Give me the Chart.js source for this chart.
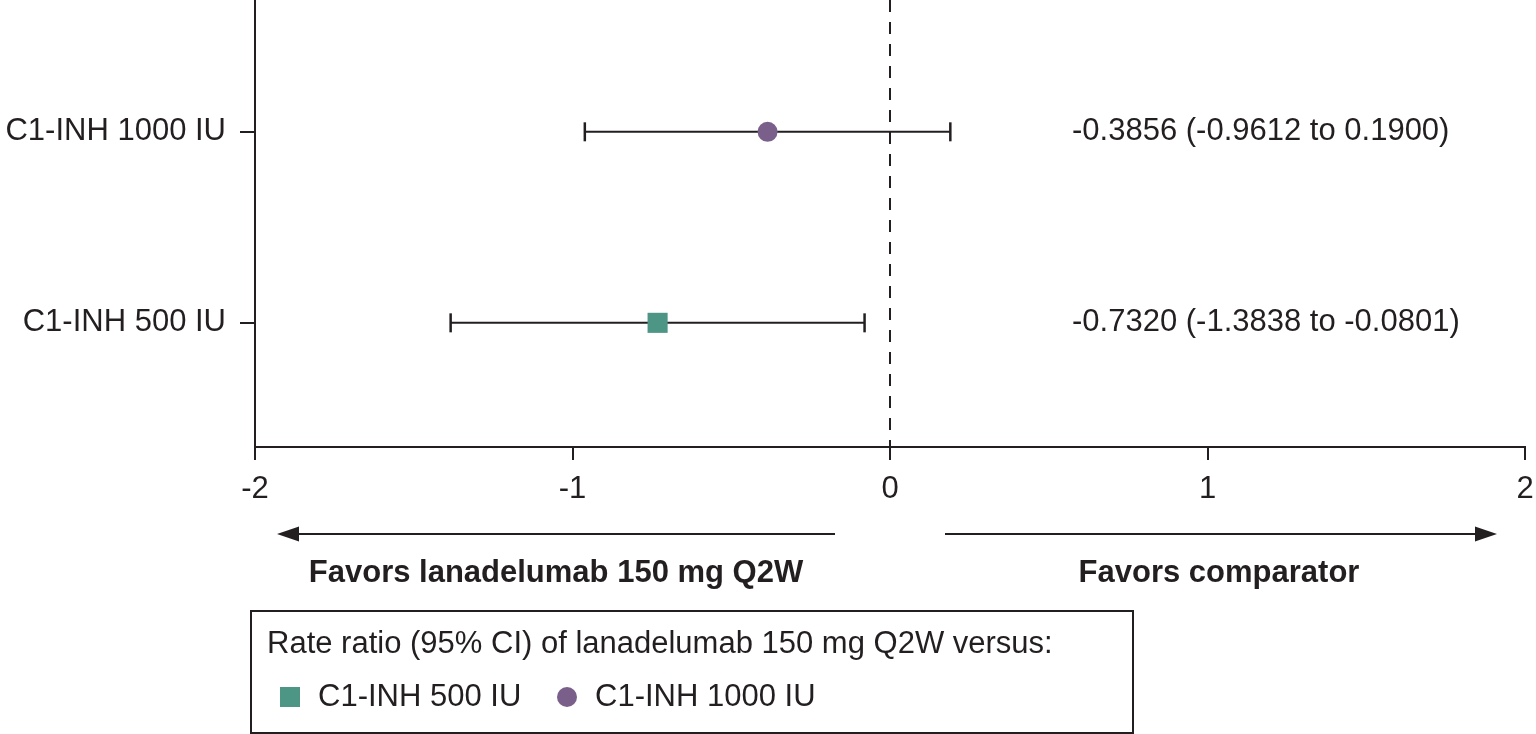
<!DOCTYPE html>
<html>
<head>
<meta charset="utf-8">
<script src="https://cdn.jsdelivr.net/npm/chart.js@4.4.0/dist/chart.umd.min.js"></script>
<style>
  html, body { margin: 0; padding: 0; background: #ffffff; }
  #wrap { width: 1536px; height: 734px; }
</style>
</head>
<body>
<div id="wrap"><canvas id="c" width="1536" height="734"></canvas></div>
<script>
// ---- data ----
const categories = ['C1-INH 1000 IU', 'C1-INH 500 IU'];
const positions = [2, 1];
const estimates = [-0.3856, -0.7320];
const lowerCI = [-0.9612, -1.3838];
const upperCI = [0.1900, -0.0801];
const xTickValues = [-2, -1, 0, 1, 2];
const legendOrder = [1, 0];
const legendTitle = 'Rate ratio (95% CI) of lanadelumab 150 mg Q2W versus:';
const leftArrowLabel = 'Favors lanadelumab 150 mg Q2W';
const rightArrowLabel = 'Favors comparator';

// ---- styles ----
const INK = '#231f20';
const FONT = "'Liberation Sans', Arial, Helvetica, sans-serif";
const markerColors = ['#7b5f8b', '#4d9584'];
const markerStyles = ['circle', 'rect'];
const markerRadius = [10, 14.2];

Chart.defaults.font.family = FONT;
Chart.defaults.color = INK;

const fmt = v => v.toFixed(4);
const noPad = () => ({ left: 0, top: 0, right: 0, bottom: 0 });

const datasets = [];
categories.forEach((c, i) => {
  datasets.push({
    type: 'scatter',
    label: c,
    data: [{ x: estimates[i], y: positions[i] }],
    pointStyle: markerStyles[i],
    pointRadius: markerRadius[i],
    pointHoverRadius: markerRadius[i],
    backgroundColor: markerColors[i],
    borderColor: markerColors[i],
    pointBorderWidth: 0,
    order: 1
  });
});
categories.forEach((c, i) => {
  datasets.push({
    type: 'line',
    label: c + ' CI',
    data: [{ x: lowerCI[i], y: positions[i] }, { x: upperCI[i], y: positions[i] }],
    borderColor: INK,
    borderWidth: 2,
    pointStyle: 'line',
    pointRotation: 90,
    pointRadius: 9.5,
    pointHoverRadius: 9.5,
    pointBorderColor: INK,
    pointBorderWidth: 2.5,
    fill: false,
    order: 2
  });
});
const Y_MIN = 0.35, Y_MAX = 2.69;
datasets.push({
  type: 'line',
  label: 'zero',
  data: [{ x: 0, y: Y_MAX }, { x: 0, y: Y_MIN }],
  borderColor: INK,
  borderWidth: 2,
  borderDash: [12, 10],
  pointRadius: 0,
  fill: false,
  order: 3
});

const extras = {
  id: 'extras',
  afterDraw(chart) {
    const ctx = chart.ctx;
    const ys = chart.scales.y;
    ctx.save();
    ctx.fillStyle = INK;
    ctx.strokeStyle = INK;

    ctx.font = '31px ' + FONT;
    ctx.textAlign = 'left';
    ctx.textBaseline = 'middle';
    categories.forEach((c, i) => {
      ctx.fillText(fmt(estimates[i]) + ' (' + fmt(lowerCI[i]) + ' to ' + fmt(upperCI[i]) + ')',
        1072, ys.getPixelForValue(positions[i]));
    });

    const ay = 534;
    ctx.lineWidth = 2;
    ctx.beginPath(); ctx.moveTo(835, ay); ctx.lineTo(292, ay); ctx.stroke();
    ctx.beginPath(); ctx.moveTo(277, ay); ctx.lineTo(299, ay - 7.5); ctx.lineTo(299, ay + 7.5); ctx.closePath(); ctx.fill();
    ctx.beginPath(); ctx.moveTo(945, ay); ctx.lineTo(1482, ay); ctx.stroke();
    ctx.beginPath(); ctx.moveTo(1497, ay); ctx.lineTo(1475, ay - 7.5); ctx.lineTo(1475, ay + 7.5); ctx.closePath(); ctx.fill();

    ctx.font = 'bold 31px ' + FONT;
    ctx.textAlign = 'center';
    ctx.fillText(leftArrowLabel, 556, 573);
    ctx.fillText(rightArrowLabel, 1219, 573);

    ctx.lineWidth = 2;
    ctx.strokeRect(251, 611, 882, 122);
    ctx.font = '31px ' + FONT;
    ctx.textAlign = 'left';
    ctx.fillText(legendTitle, 267, 644);
    const ly = 697;
    const itemX = [280, 557];
    legendOrder.forEach((idx, k) => {
      ctx.fillStyle = markerColors[idx];
      const x0 = itemX[k];
      if (markerStyles[idx] === 'rect') {
        ctx.fillRect(x0, ly - 10, 20, 20);
      } else {
        ctx.beginPath(); ctx.arc(x0 + 10, ly, 10, 0, Math.PI * 2); ctx.fill();
      }
      ctx.fillStyle = INK;
      ctx.fillText(categories[idx], x0 + 38, ly);
    });
    ctx.restore();
  }
};

new Chart(document.getElementById('c'), {
  type: 'scatter',
  data: { datasets },
  options: {
    responsive: false,
    animation: false,
    events: [],
    layout: { autoPadding: false, padding: { top: 0, right: 11, bottom: 0, left: 0 } },
    plugins: { legend: { display: false }, tooltip: { enabled: false } },
    scales: {
      x: {
        type: 'linear',
        min: -2, max: 2,
        afterBuildTicks: s => { s.ticks = xTickValues.map(v => ({ value: v })); },
        afterFit: s => { s.height = 287; s.paddingLeft = 0; s.paddingRight = 0; s.getPadding = noPad; },
        ticks: { font: { size: 31 }, color: INK, padding: 11, callback: v => String(v) },
        grid: { display: true, drawOnChartArea: false, tickLength: 13, color: INK, lineWidth: 2 },
        border: { display: true, color: INK, width: 2 }
      },
      y: {
        type: 'linear',
        min: Y_MIN, max: Y_MAX,
        afterBuildTicks: s => { s.ticks = positions.map(v => ({ value: v })); },
        afterFit: s => { s.width = 255; s.paddingTop = 0; s.paddingBottom = 0; s.getPadding = noPad; },
        ticks: {
          font: { size: 31 }, color: INK, padding: 14,
          callback: v => { const i = positions.indexOf(v); return i >= 0 ? categories[i] : ''; }
        },
        grid: { display: true, drawOnChartArea: false, tickLength: 15, color: INK, lineWidth: 2 },
        border: { display: true, color: INK, width: 2 }
      }
    }
  },
  plugins: [extras]
});
</script>
</body>
</html>
